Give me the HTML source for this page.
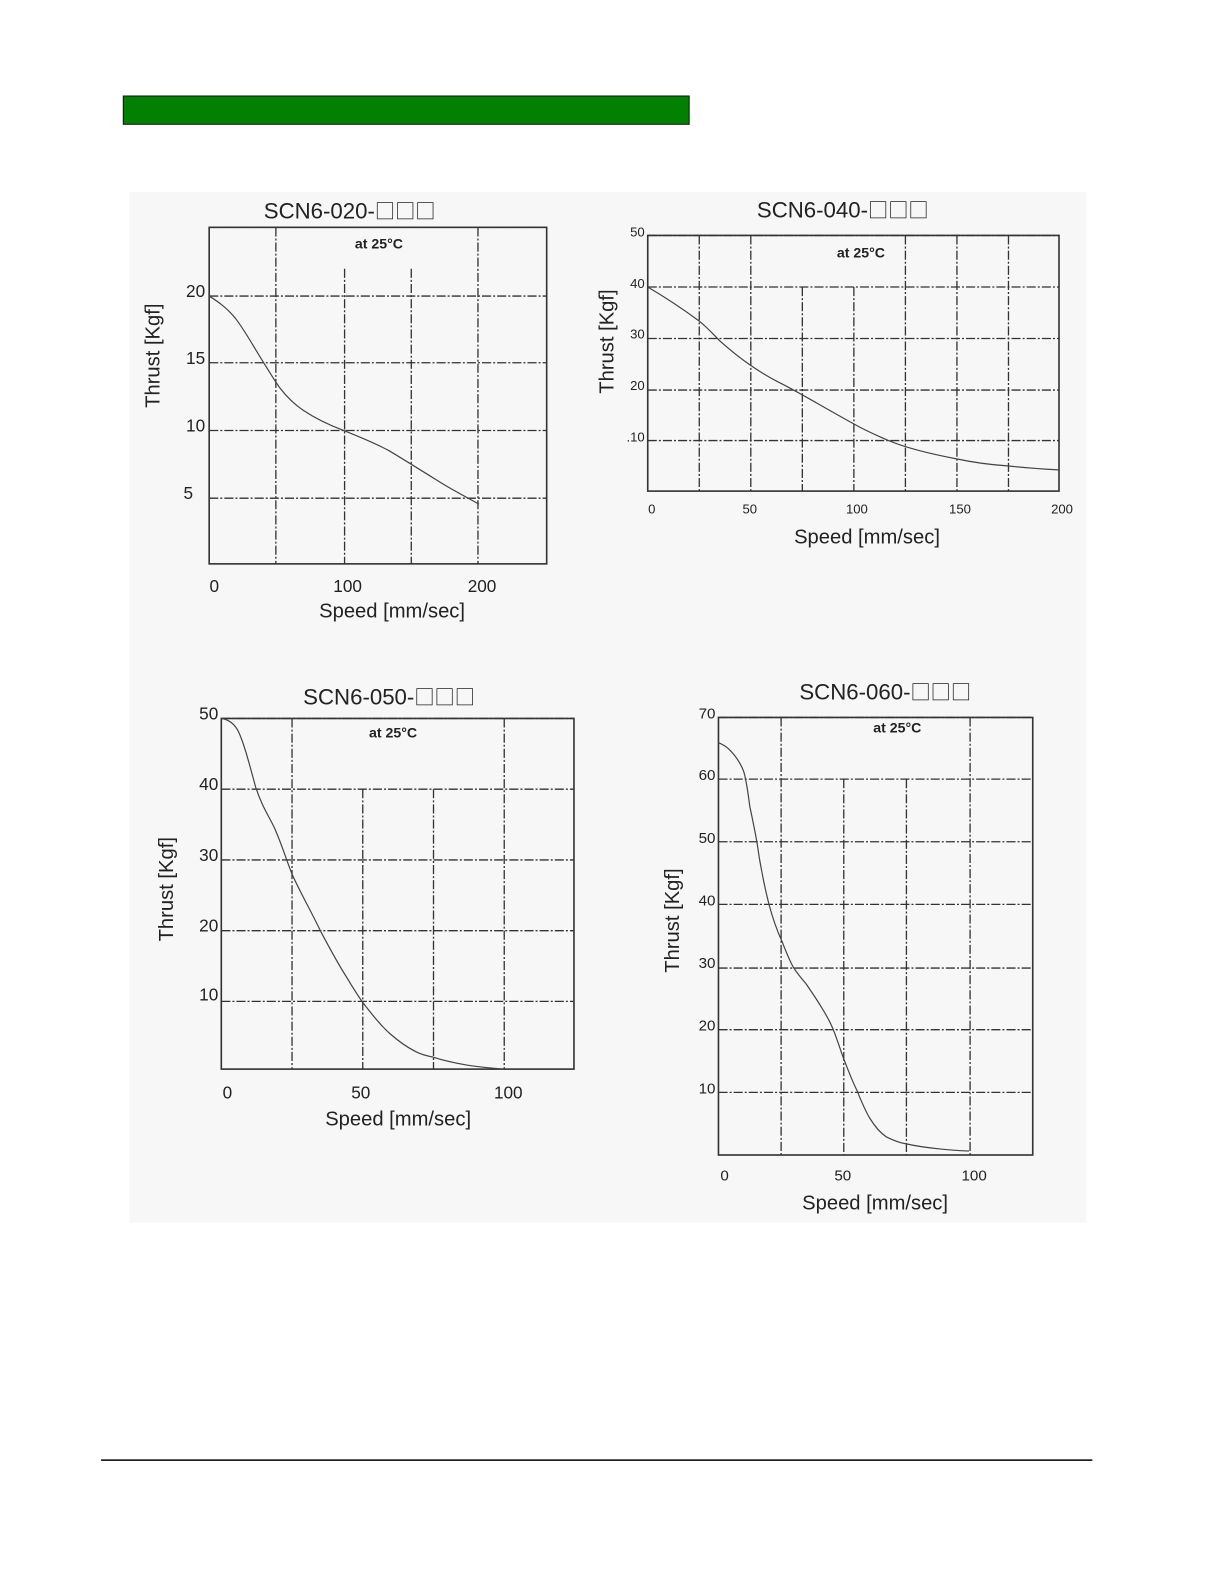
<!DOCTYPE html>
<html><head><meta charset="utf-8"><style>
html,body{margin:0;padding:0;background:#fff;}
svg{display:block;}
text{font-family:"Liberation Sans","Noto Sans CJK JP",sans-serif;fill:#222;}
.g{stroke:#333;stroke-width:1.3;fill:none;stroke-dasharray:9 2 2 2;}
.f{stroke:#333;stroke-width:1.6;fill:none;}
.c{stroke:#444;stroke-width:1.2;fill:none;}
.t{font-size:22px;}
.q{font-family:"Noto Sans CJK JP",sans-serif;font-size:20px;}
.a{font-size:20px;}
.k{font-size:17px;}
.s{font-size:13px;}
.n{font-size:14px;font-weight:bold;}
</style></head><body>
<svg width="1224" height="1584" viewBox="0 0 1224 1584" xmlns="http://www.w3.org/2000/svg">
<g transform="scale(1.0105)">
<rect x="122" y="95" width="560" height="28" fill="#018001" stroke="#111" stroke-width="1"/>
<rect x="128" y="190" width="947" height="1020" fill="#f7f7f7"/>
<line x1="100" y1="1445" x2="1081" y2="1445" stroke="#000" stroke-width="1.5"/>

<!-- Chart 1 -->
<text class="t" x="346" y="216" text-anchor="middle">SCN6-020-<tspan class="q">□□□</tspan></text>
<text class="n" x="375" y="246" text-anchor="middle">at 25°C</text>
<path class="g" d="M207 225H541M207 293H541M207 359H541M207 426H541M207 493H541M273 225V558M341 266V558M407 266V558M473 225V558"/>
<rect class="f" x="207" y="225" width="334" height="333"/>
<path class="c" d="M207 293 C215 298 224 304 233 315 C243 328 252 345 261 359 C266 367 270 374 277 384 C284 393 291 400 300 406 C312 414 324 420 340 426 C355 432 370 438 385 446 C400 455 416 465 432 475 C446 484 460 491 474 499"/>
<text class="k" x="203" y="294" text-anchor="end">20</text>
<text class="k" x="203" y="360" text-anchor="end">15</text>
<text class="k" x="203" y="427" text-anchor="end">10</text>
<text class="k" x="191" y="494" text-anchor="end">5</text>
<text class="k" x="212" y="586" text-anchor="middle">0</text>
<text class="k" x="344" y="586" text-anchor="middle">100</text>
<text class="k" x="477" y="586" text-anchor="middle">200</text>
<text class="a" x="388" y="611" text-anchor="middle">Speed [mm/sec]</text>
<text class="a" transform="translate(158,352) rotate(-90)" text-anchor="middle">Thrust [Kgf]</text>

<!-- Chart 2 -->
<text class="t" x="834" y="215" text-anchor="middle">SCN6-040-<tspan class="q">□□□</tspan></text>
<text class="n" x="852" y="255" text-anchor="middle">at 25°C</text>
<path class="g" d="M641 233H1048M641 284H1048M641 335H1048M641 386H1048M641 436H1048M692 233V486M743 233V486M794 284V486M845 284V486M896 233V486M947 233V486M998 233V486"/>
<rect class="f" x="641" y="233" width="407" height="253"/>
<path class="c" d="M641 284 C658 294 676 306 691 317 C700 324 706 331 712 337 C722 346 732 354 742 361 C752 368 762 374 772 379 C790 388 815 403 844 419 C858 427 868 431 877 435 C895 443 920 449 946 454 C965 458 980 460 997 461 C1015 463 1030 464 1048 465"/>
<text class="s" x="638" y="234" text-anchor="end">50</text>
<text class="s" x="638" y="285" text-anchor="end">40</text>
<text class="s" x="638" y="335" text-anchor="end">30</text>
<text class="s" x="638" y="386" text-anchor="end">20</text>
<text class="s" x="638" y="437" text-anchor="end">.10</text>
<text class="s" x="645" y="508" text-anchor="middle">0</text>
<text class="s" x="742" y="508" text-anchor="middle">50</text>
<text class="s" x="848" y="508" text-anchor="middle">100</text>
<text class="s" x="950" y="508" text-anchor="middle">150</text>
<text class="s" x="1051" y="508" text-anchor="middle">200</text>
<text class="a" x="858" y="538" text-anchor="middle">Speed [mm/sec]</text>
<text class="a" transform="translate(607,338) rotate(-90)" text-anchor="middle">Thrust [Kgf]</text>

<!-- Chart 3 -->
<text class="t" x="385" y="697" text-anchor="middle">SCN6-050-<tspan class="q">□□□</tspan></text>
<text class="n" x="389" y="730" text-anchor="middle">at 25°C</text>
<path class="g" d="M219 711H568M219 781H568M219 851H568M219 921H568M219 991H568M289 711V1058M359 781V1058M429 781V1058M499 711V1058"/>
<rect class="f" x="219" y="711" width="349" height="347"/>
<path class="c" d="M219 711 C226 712 232 716 236 724 C242 737 247 757 253 779 C259 797 265 806 271 818 C278 833 283 850 289 865 C298 885 308 902 317 921 C326 938 334 953 343 967 C349 977 354 985 359 992 C368 1004 377 1015 386 1023 C395 1031 404 1037 412 1041 C418 1044 423 1045 428 1046 C440 1050 450 1052 462 1054 C474 1056 486 1057 498 1058"/>
<text class="k" x="216" y="712" text-anchor="end">50</text>
<text class="k" x="216" y="782" text-anchor="end">40</text>
<text class="k" x="216" y="852" text-anchor="end">30</text>
<text class="k" x="216" y="922" text-anchor="end">20</text>
<text class="k" x="216" y="990" text-anchor="end">10</text>
<text class="k" x="225" y="1087" text-anchor="middle">0</text>
<text class="k" x="357" y="1087" text-anchor="middle">50</text>
<text class="k" x="503" y="1087" text-anchor="middle">100</text>
<text class="a" x="394" y="1114" text-anchor="middle">Speed [mm/sec]</text>
<text class="a" transform="translate(171,880) rotate(-90)" text-anchor="middle">Thrust [Kgf]</text>

<!-- Chart 4 -->
<text class="t" x="876" y="692" text-anchor="middle">SCN6-060-<tspan class="q">□□□</tspan></text>
<text class="n" x="888" y="725" text-anchor="middle">at 25°C</text>
<path class="g" d="M711 710H1022M711 771H1022M711 833H1022M711 895H1022M711 958H1022M711 1019H1022M711 1081H1022M773 710V1143M835 771V1143M897 771V1143M960 710V1143"/>
<rect class="f" x="711" y="710" width="311" height="433"/>
<path class="c" d="M711 735 C716 737 719 739 722 742 C727 747 730 751 733 757 C736 762 737 766 738 772 C740 782 741 790 742 798 C745 812 747 822 749 833 C752 855 756 875 761 895 C765 910 769 921 774 932 C778 942 781 950 785 957 C790 965 794 969 798 974 C804 983 809 990 813 997 C818 1005 822 1012 825 1020 C829 1030 832 1040 835 1048 C839 1058 843 1069 848 1079 C852 1089 856 1099 861 1107 C866 1115 871 1121 877 1125 C883 1128 890 1131 897 1132 C910 1135 920 1136 930 1137 C940 1138 950 1139 959 1139"/>
<text class="s" x="708" y="711" text-anchor="end" style="font-size:15px">70</text>
<text class="s" x="708" y="772" text-anchor="end" style="font-size:15px">60</text>
<text class="s" x="708" y="834" text-anchor="end" style="font-size:15px">50</text>
<text class="s" x="708" y="896" text-anchor="end" style="font-size:15px">40</text>
<text class="s" x="708" y="958" text-anchor="end" style="font-size:15px">30</text>
<text class="s" x="708" y="1020" text-anchor="end" style="font-size:15px">20</text>
<text class="s" x="708" y="1082" text-anchor="end" style="font-size:15px">10</text>
<text class="s" x="717" y="1168" text-anchor="middle" style="font-size:15px">0</text>
<text class="s" x="834" y="1168" text-anchor="middle" style="font-size:15px">50</text>
<text class="s" x="964" y="1168" text-anchor="middle" style="font-size:15px">100</text>
<text class="a" x="866" y="1197" text-anchor="middle">Speed [mm/sec]</text>
<text class="a" transform="translate(672,911) rotate(-90)" text-anchor="middle">Thrust [Kgf]</text>
</g>
</svg>
</body></html>
